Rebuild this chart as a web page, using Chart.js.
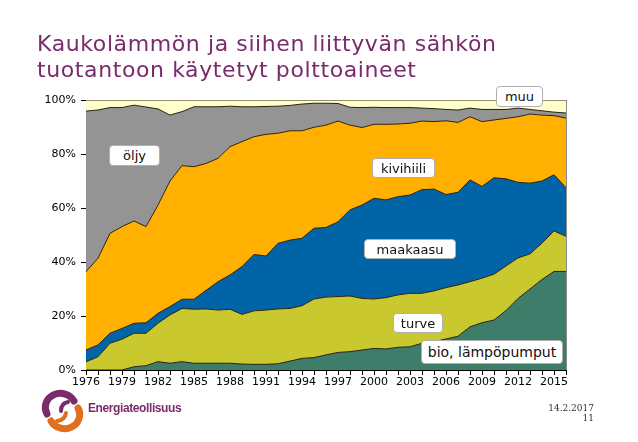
<!DOCTYPE html>
<html>
<head>
<meta charset="utf-8">
<script src="https://cdn.jsdelivr.net/npm/chart.js@4.4.1/dist/chart.umd.min.js"></script>
<style>
  body { margin: 0; width: 638px; height: 442px; overflow: hidden; position: relative; background: #fff; font-family: "DejaVu Sans", Verdana, sans-serif; }
  #chart { position: absolute; left: 0; top: 0; }
  .title { position: absolute; left: 37px; top: 31px; color: #7b2a6c; font-size: 22px; line-height: 26px; letter-spacing: 0.6px; white-space: nowrap; }
  .lbl { position: absolute; background: #fff; border: 1px solid #b0b0b0; border-radius: 4px; font-size: 13px; line-height: 19px; text-align: center; color: #111; box-sizing: border-box; }
  .brand { position: absolute; left: 88px; top: 401px; color: #7b2a6c; font-family: "Liberation Sans", sans-serif; font-weight: bold; font-size: 12px; letter-spacing: -0.4px; }
  .date { position: absolute; right: 44px; top: 403px; font-size: 9px; line-height: 10px; text-align: right; color: #333; font-family: "DejaVu Serif", serif; }
</style>
</head>
<body>
<canvas id="chart" width="638" height="442"></canvas>
<div class="title">Kaukolämmön ja siihen liittyvän sähkön<br>tuotantoon käytetyt polttoaineet</div>

<div class="lbl" style="left:109px;top:145px;width:51px;height:21px;">öljy</div>
<div class="lbl" style="left:372px;top:158px;width:63px;height:20px;">kivihiili</div>
<div class="lbl" style="left:364px;top:239px;width:92px;height:20px;">maakaasu</div>
<div class="lbl" style="left:393px;top:313px;width:50px;height:20px;">turve</div>
<div class="lbl" style="left:421px;top:340px;width:142px;height:24px;line-height:22px;font-size:14px;">bio, lämpöpumput</div>
<div class="lbl" style="left:496px;top:86px;width:47px;height:21px;">muu</div>

<svg style="position:absolute;left:38px;top:386px" width="50" height="50" viewBox="0 0 50 50">
  <g fill="none" stroke-linecap="round">
    <path d="M 9 28 A 14 13 0 0 1 36 15" stroke="#7b2a6c" stroke-width="7"/>
    <path d="M 30 16 Q 23 17 23 25" stroke="#7b2a6c" stroke-width="4"/>
    <path d="M 40 22 A 14 13 0 0 1 13 35" stroke="#e0701e" stroke-width="7"/>
    <path d="M 19 35 Q 27 34 28 27" stroke="#e0701e" stroke-width="4"/>
  </g>
</svg>
<div class="brand">Energiateollisuus</div>
<div class="date">14.2.2017<br>11</div>

<script>
const years = ['1976','1977','1978','1979','1980','1981','1982','1983','1984','1985',
  '1986','1987','1988','1989','1990','1991','1992','1993','1994','1995',
  '1996','1997','1998','1999','2000','2001','2002','2003','2004','2005',
  '2006','2007','2008','2009','2010','2011','2012','2013','2014','2015','2016'];

// osuudet prosentteina, alhaalta ylös pinottuna
const bio = [0, 0, 0, 0, 1.2, 1.6, 3.1, 2.5, 3.1, 2.5,
  2.5, 2.5, 2.5, 2.2, 2.1, 2.1, 2.3, 3.3, 4.3, 4.6,
  5.6, 6.5, 6.8, 7.4, 8, 7.8, 8.4, 8.6, 9.9, 10.5,
  11.5, 12.5, 16, 17.5, 18.5, 22, 26.5, 30, 33.5, 36.5, 36.5];
const turve = [3, 4.9, 9.9, 11.4, 12.4, 12, 14.2, 17.9, 19.7, 20,
  20.1, 19.7, 20, 18.4, 19.8, 20.1, 20.3, 19.5, 19.5, 21.7,
  21.4, 20.7, 20.6, 19.1, 18.3, 19, 19.4, 19.8, 18.5, 18.8,
  19, 19, 16.7, 16.5, 17, 16.5, 15, 13, 13.5, 15, 13];
const maakaasu = [4.4, 4.4, 3.7, 4, 3.7, 3.9, 3.7, 3.1, 3.4, 3.7,
  6.9, 10.5, 12.7, 17.7, 20.9, 20, 24.3, 25.3, 25, 26.2,
  25.8, 27.7, 31.9, 34.6, 37.3, 36.2, 36.4, 36.4, 38.4, 37.7,
  34.5, 34.3, 37.7, 34, 35.7, 32.3, 28, 26.2, 23, 20.8, 18];
const kivihiili = [29, 32.1, 37, 37.7, 37.9, 35.6, 40.1, 46.5, 49.5, 49.1,
  47, 45.7, 47.5, 46.3, 43.6, 45.1, 40.8, 40.5, 39.8, 37.4,
  37.9, 37.3, 31.4, 28.7, 27.4, 28, 26.9, 26.6, 25.4, 25,
  27.3, 25.9, 23.4, 24, 21.4, 22.4, 24.3, 25.6, 24.4, 21.9, 25.8];
const oljy = [59.5, 54.9, 46.6, 44.1, 42.9, 44.3, 35.6, 24.4, 20, 22.2,
  21, 19.1, 15, 12.9, 11.1, 10.3, 10, 9.4, 9.9, 8.9,
  8.1, 6.5, 6.6, 7.4, 6.3, 6.2, 6.1, 5.8, 4.8, 4.8,
  4.2, 4.6, 3.2, 4.5, 3.9, 3.3, 3.2, 1.7, 1.6, 1.3, 1.9];
const muu = [4.1, 3.7, 2.8, 2.8, 1.9, 2.6, 3.3, 5.6, 4.3, 2.5,
  2.5, 2.5, 2.3, 2.5, 2.5, 2.4, 2.3, 2, 1.5, 1.2,
  1.2, 1.3, 2.7, 2.8, 2.7, 2.8, 2.8, 2.8, 3, 3.2,
  3.5, 3.7, 3, 3.5, 3.5, 3.5, 3, 3.5, 4, 4.5, 4.8];

const yTicks = [0, 20, 40, 60, 80, 100];

function area(label, data, color, fill) {
  return {
    label: label,
    data: data,
    backgroundColor: color,
    borderColor: '#2b2212',
    borderWidth: 1,
    pointRadius: 0,
    tension: 0,
    fill: fill
  };
}

const rightEdge = {
  id: 'rightEdge',
  afterDatasetsDraw(chart) {
    const a = chart.chartArea;
    const ctx = chart.ctx;
    ctx.save();
    ctx.strokeStyle = '#8a8a8a';
    ctx.lineWidth = 1;
    ctx.beginPath();
    ctx.moveTo(Math.round(a.right) + 0.5, a.top);
    ctx.lineTo(Math.round(a.right) + 0.5, a.bottom);
    ctx.stroke();
    ctx.restore();
  }
};

new Chart(document.getElementById('chart'), {
  type: 'line',
  data: {
    labels: years,
    datasets: [
      area('bio, lämpöpumput', bio, '#3d7d69', 'origin'),
      area('turve', turve, '#c9c92f', '-1'),
      area('maakaasu', maakaasu, '#0064a6', '-1'),
      area('kivihiili', kivihiili, '#ffb000', '-1'),
      area('öljy', oljy, '#949494', '-1'),
      area('muu', muu, '#ffffcc', '-1')
    ]
  },
  options: {
    responsive: false,
    animation: false,
    layout: { padding: { top: 100, right: 72, left: 0, bottom: 0 } },
    plugins: {
      legend: { display: false },
      tooltip: { enabled: false },
      filler: { drawTime: 'beforeDatasetsDraw' }
    },
    scales: {
      x: {
        type: 'category',
        offset: false,
        afterFit: s => { s.height = 72; },
        grid: { drawOnChartArea: false, tickLength: 5, color: '#000' },
        border: { color: '#000' },
        ticks: {
          autoSkip: false,
          maxRotation: 0,
          padding: 1,
          color: '#000',
          font: { family: 'DejaVu Sans', size: 11 },
          callback: (v, i) => (i % 3 === 0 ? years[i] : '')
        }
      },
      y: {
        stacked: true,
        min: 0,
        max: 100,
        afterFit: s => { s.width = 86; },
        afterBuildTicks: s => { s.ticks = yTicks.map(v => ({ value: v })); },
        grid: { drawOnChartArea: false, tickLength: 5, color: '#000' },
        border: { color: '#000' },
        ticks: {
          padding: 5,
          color: '#000',
          font: { family: 'DejaVu Sans', size: 11 },
          callback: v => v + '%'
        }
      }
    }
  },
  plugins: [rightEdge]
});
</script>
</body>
</html>
